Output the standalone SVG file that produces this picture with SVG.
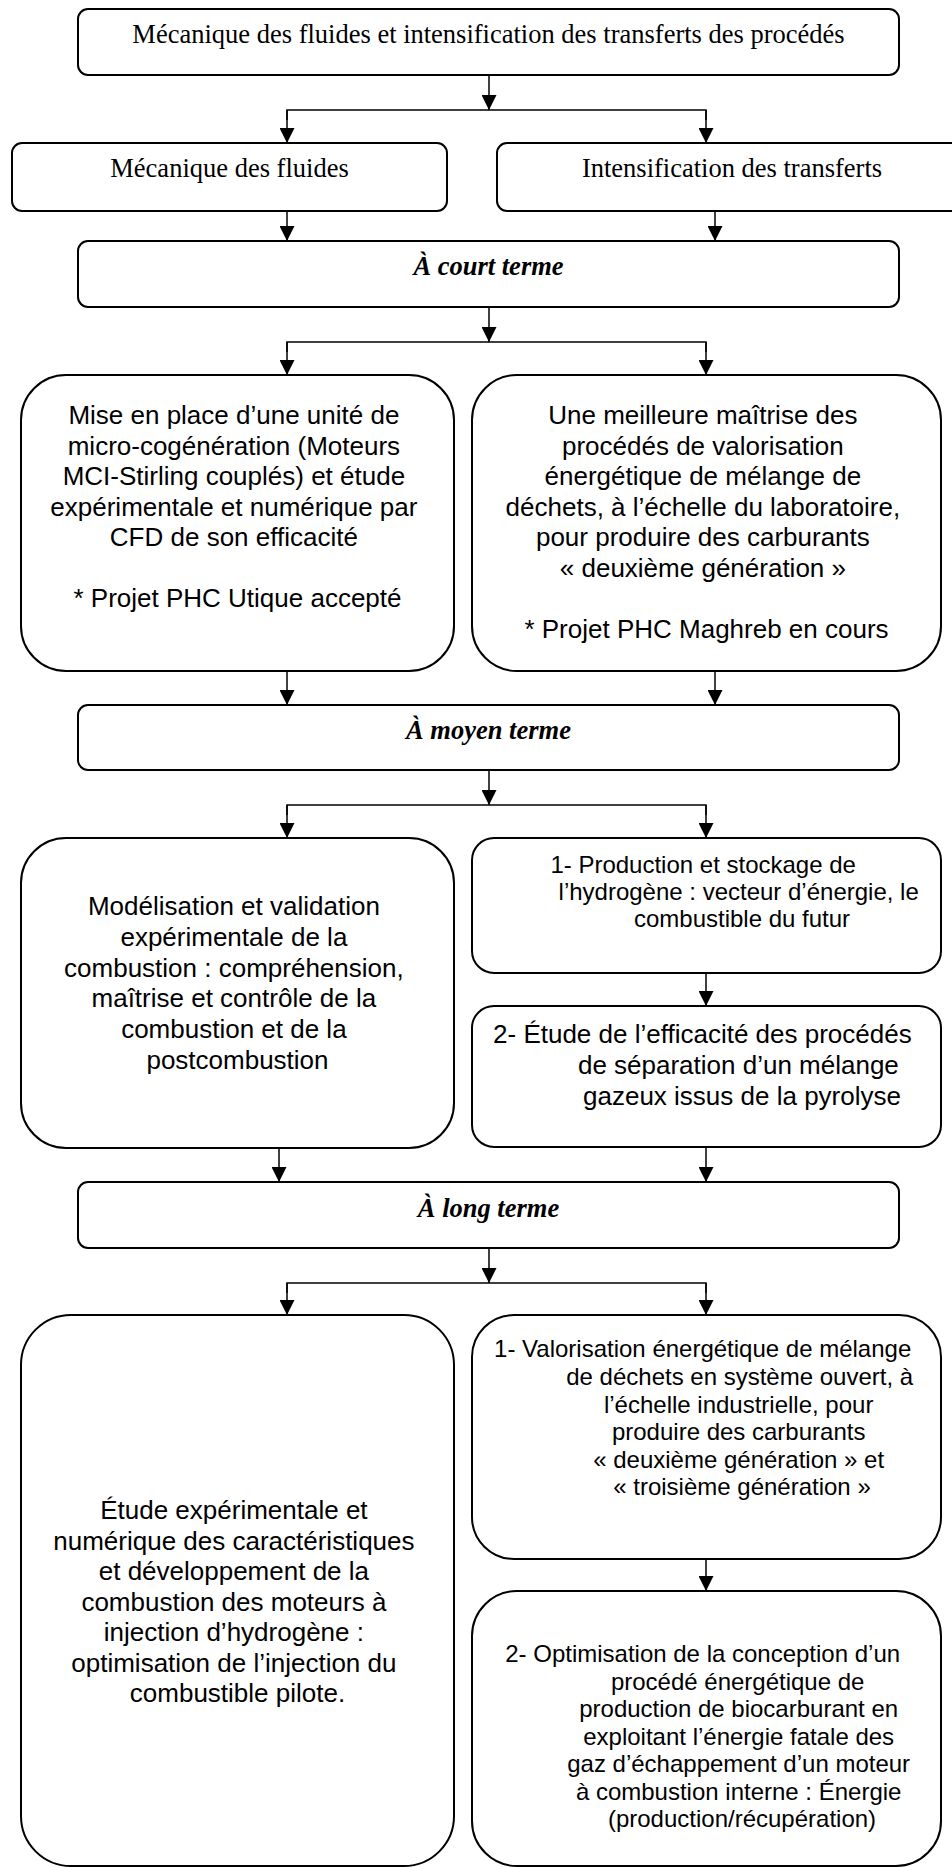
<svg xmlns="http://www.w3.org/2000/svg" width="952" height="1867" viewBox="0 0 952 1867">
<defs>
<marker id="ah" markerWidth="15" markerHeight="15" viewBox="0 0 15 15" refX="15" refY="7.5" orient="auto" markerUnits="userSpaceOnUse"><path d="M0,0 L15,7.5 L0,15 z" fill="#000"/></marker>
<style>
.box{fill:#fff;stroke:#000;stroke-width:2}
.ser{font-family:"Liberation Serif","Times New Roman",serif;font-size:26.5px;fill:#000;text-anchor:middle}
.bi{font-family:"Liberation Serif","Times New Roman",serif;font-size:26.5px;font-style:italic;font-weight:bold;fill:#000;text-anchor:middle}
.s26{font-family:"Liberation Sans",Arial,sans-serif;font-size:26px;fill:#000;text-anchor:middle}
.s24{font-family:"Liberation Sans",Arial,sans-serif;font-size:24px;fill:#000;text-anchor:middle}
.con{fill:none;stroke:#000;stroke-width:1.5}
.arr{fill:none;stroke:#000;stroke-width:1.5;marker-end:url(#ah)}
</style>
</defs>
<rect width="952" height="1867" fill="#fff"/>

<g id="connectors">
<line class="arr" x1="489" y1="75" x2="489" y2="110"/>
<polyline class="con" points="287,120 287,110 706,110 706,120"/>
<line class="arr" x1="287" y1="110" x2="287" y2="143"/>
<line class="arr" x1="706" y1="110" x2="706" y2="143"/>
<line class="arr" x1="287" y1="211" x2="287" y2="241"/>
<line class="arr" x1="715" y1="211" x2="715" y2="241"/>
<line class="arr" x1="489" y1="307" x2="489" y2="342"/>
<polyline class="con" points="287,352 287,342 706,342 706,352"/>
<line class="arr" x1="287" y1="342" x2="287" y2="375"/>
<line class="arr" x1="706" y1="342" x2="706" y2="375"/>
<line class="arr" x1="287" y1="671" x2="287" y2="705"/>
<line class="arr" x1="715" y1="671" x2="715" y2="705"/>
<line class="arr" x1="489" y1="770" x2="489" y2="805"/>
<polyline class="con" points="287,815 287,805 706,805 706,815"/>
<line class="arr" x1="287" y1="805" x2="287" y2="838"/>
<line class="arr" x1="706" y1="805" x2="706" y2="838"/>
<line class="arr" x1="706" y1="973" x2="706" y2="1006"/>
<line class="arr" x1="279" y1="1148" x2="279" y2="1182"/>
<line class="arr" x1="706" y1="1147" x2="706" y2="1182"/>
<line class="arr" x1="489" y1="1248" x2="489" y2="1283"/>
<polyline class="con" points="287,1293 287,1283 706,1283 706,1293"/>
<line class="arr" x1="287" y1="1283" x2="287" y2="1315"/>
<line class="arr" x1="706" y1="1283" x2="706" y2="1315"/>
<line class="arr" x1="706" y1="1559" x2="706" y2="1591"/>
</g>

<g id="n-root">
<rect class="box" x="78" y="9" width="821" height="66" rx="10"/>
<text class="ser" x="488.5" y="43">Mécanique des fluides et intensification des transferts des procédés</text>
</g>
<g id="n-meca">
<rect class="box" x="12" y="143" width="435" height="68" rx="10"/>
<text class="ser" x="229.5" y="177">Mécanique des fluides</text>
</g>
<g id="n-intens">
<rect class="box" x="497" y="143" width="470" height="68" rx="10"/>
<text class="ser" x="732" y="177">Intensification des transferts</text>
</g>
<g id="n-court">
<rect class="box" x="78" y="241" width="821" height="66" rx="10"/>
<text class="bi" x="488.5" y="275">À court terme</text>
</g>
<g id="n-court-left">
<rect class="box" x="21" y="375" width="433" height="296" rx="45"/>
<text class="s26">
<tspan x="237.5" y="424">Mise en place d’une unité de</tspan>
<tspan x="237.5" y="454.5">micro-cogénération (Moteurs</tspan>
<tspan x="237.5" y="485">MCI-Stirling couplés) et étude</tspan>
<tspan x="237.5" y="515.5">expérimentale et numérique par</tspan>
<tspan x="237.5" y="546">CFD de son efficacité</tspan>
<tspan x="237.5" y="607">* Projet PHC Utique accepté</tspan>
</text>
</g>
<g id="n-court-right">
<rect class="box" x="472" y="375" width="469" height="296" rx="45"/>
<text class="s26">
<tspan x="706.5" y="424">Une meilleure maîtrise des</tspan>
<tspan x="706.5" y="454.5">procédés de valorisation</tspan>
<tspan x="706.5" y="485">énergétique de mélange de</tspan>
<tspan x="706.5" y="515.5">déchets, à l’échelle du laboratoire,</tspan>
<tspan x="706.5" y="546">pour produire des carburants</tspan>
<tspan x="706.5" y="576.5">« deuxième génération »</tspan>
<tspan x="706.5" y="637.5">* Projet PHC Maghreb en cours</tspan>
</text>
</g>
<g id="n-moyen">
<rect class="box" x="78" y="705" width="821" height="65" rx="10"/>
<text class="bi" x="488.5" y="739">À moyen terme</text>
</g>
<g id="n-moyen-left">
<rect class="box" x="21" y="838" width="433" height="310" rx="45"/>
<text class="s26">
<tspan x="237.5" y="915">Modélisation et validation</tspan>
<tspan x="237.5" y="945.8">expérimentale de la</tspan>
<tspan x="237.5" y="976.6">combustion : compréhension,</tspan>
<tspan x="237.5" y="1007.4">maîtrise et contrôle de la</tspan>
<tspan x="237.5" y="1038.2">combustion et de la</tspan>
<tspan x="237.5" y="1069">postcombustion</tspan>
</text>
</g>
<g id="n-moyen-right1">
<rect class="box" x="472" y="838" width="469" height="135" rx="22"/>
<text class="s24">
<tspan x="706.5" y="873">1- Production et stockage de</tspan>
<tspan x="742" y="900">l’hydrogène : vecteur d’énergie, le</tspan>
<tspan x="742" y="927">combustible du futur</tspan>
</text>
</g>
<g id="n-moyen-right2">
<rect class="box" x="472" y="1006" width="469" height="141" rx="22"/>
<text class="s26">
<tspan x="706" y="1043">2- Étude de l’efficacité des procédés</tspan>
<tspan x="742" y="1074">de séparation d’un mélange</tspan>
<tspan x="742" y="1105">gazeux issus de la pyrolyse</tspan>
</text>
</g>
<g id="n-long">
<rect class="box" x="78" y="1182" width="821" height="66" rx="10"/>
<text class="bi" x="488.5" y="1217">À long terme</text>
</g>
<g id="n-long-left">
<rect class="box" x="21" y="1315" width="433" height="551" rx="50"/>
<text class="s26">
<tspan x="237.5" y="1519">Étude expérimentale et</tspan>
<tspan x="237.5" y="1549.5">numérique des caractéristiques</tspan>
<tspan x="237.5" y="1580">et développement de la</tspan>
<tspan x="237.5" y="1610.5">combustion des moteurs à</tspan>
<tspan x="237.5" y="1641">injection d’hydrogène :</tspan>
<tspan x="237.5" y="1671.5">optimisation de l’injection du</tspan>
<tspan x="237.5" y="1702">combustible pilote.</tspan>
</text>
</g>
<g id="n-long-right1">
<rect class="box" x="472" y="1315" width="469" height="244" rx="42"/>
<text class="s24">
<tspan x="706" y="1357">1- Valorisation énergétique de mélange</tspan>
<tspan x="743" y="1385">de déchets en système ouvert, à</tspan>
<tspan x="742" y="1412.5">l’échelle industrielle, pour</tspan>
<tspan x="742" y="1440">produire des carburants</tspan>
<tspan x="742" y="1467.5">« deuxième génération » et</tspan>
<tspan x="742" y="1495">« troisième génération »</tspan>
</text>
</g>
<g id="n-long-right2">
<rect class="box" x="472" y="1591" width="469" height="275" rx="45"/>
<text class="s24">
<tspan x="706" y="1662">2- Optimisation de la conception d’un</tspan>
<tspan x="741" y="1689.5">procédé énergétique de</tspan>
<tspan x="742" y="1717">production de biocarburant en</tspan>
<tspan x="742" y="1744.5">exploitant l’énergie fatale des</tspan>
<tspan x="742" y="1772">gaz d’échappement d’un moteur</tspan>
<tspan x="742" y="1799.5">à combustion interne : Énergie</tspan>
<tspan x="742" y="1827">(production/récupération)</tspan>
</text>
</g>
</svg>
